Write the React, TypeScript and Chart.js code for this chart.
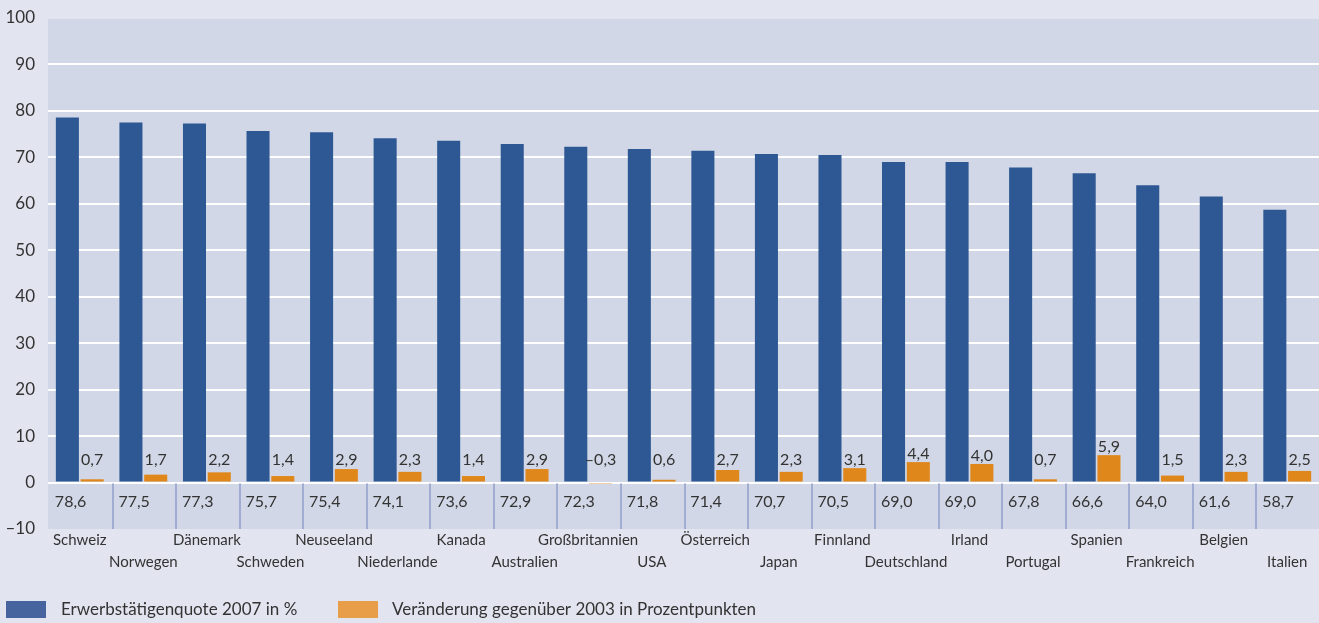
import React, { useEffect, useRef } from 'react';
import { Chart, registerables } from 'chart.js';

Chart.register(...registerables);

const countries = ['Schweiz', 'Norwegen', 'Dänemark', 'Schweden', 'Neuseeland', 'Niederlande', 'Kanada', 'Australien', 'Großbritannien', 'USA', 'Österreich', 'Japan', 'Finnland', 'Deutschland', 'Irland', 'Portugal', 'Spanien', 'Frankreich', 'Belgien', 'Italien'];
const employment2007 = [78.6, 77.5, 77.3, 75.7, 75.4, 74.1, 73.6, 72.9, 72.3, 71.8, 71.4, 70.7, 70.5, 69.0, 69.0, 67.8, 66.6, 64.0, 61.6, 58.7];
const change2003 = [0.7, 1.7, 2.2, 1.4, 2.9, 2.3, 1.4, 2.9, -0.3, 0.6, 2.7, 2.3, 3.1, 4.4, 4.0, 0.7, 5.9, 1.5, 2.3, 2.5];
const seriesLabels = ['Erwerbstätigenquote 2007 in %', 'Veränderung gegenüber 2003 in Prozentpunkten'];
const yMin = -10;
const yMax = 100;
const yStep = 10;

const PAGE_BG = '#e2e4f0';
const PLOT_BG = '#d1d7e6';
const BLUE = '#2e5894';
const ORANGE = '#e0871b';
const LEGEND_BLUE = '#47649e';
const LEGEND_ORANGE = '#e89d48';
const TEXT = '#333333';
const SEP = '#a0acd2';
const FONT = 'Lato, "Open Sans", sans-serif';

const fmt = (v: number) => (v < 0 ? '\u2013' : '') + Math.abs(v).toFixed(1).replace('.', ',');

const backgroundPlugin = {
  id: 'bgPlugin',
  beforeDraw(chart: any) {
    const { ctx, chartArea, width, height } = chart;
    ctx.save();
    ctx.fillStyle = PAGE_BG;
    ctx.fillRect(0, 0, width, height);
    ctx.fillStyle = PLOT_BG;
    ctx.fillRect(chartArea.left, chartArea.top + 1, chartArea.right - chartArea.left, chartArea.bottom - chartArea.top - 1);
    ctx.restore();
  },
  beforeDatasetsDraw(chart: any) {
    const { ctx, scales } = chart;
    const x = scales.x;
    const y = scales.y;
    const y0 = y.getPixelForValue(0);
    const yb = y.getPixelForValue(yMin);
    ctx.save();
    ctx.strokeStyle = SEP;
    ctx.lineWidth = 2;
    for (let i = 0; i < countries.length - 1; i++) {
      const a = x.getPixelForValue(i);
      const b = x.getPixelForValue(i + 1);
      const bx = Math.round((a + b) / 2) + 1;
      ctx.beginPath();
      ctx.moveTo(bx, y0 + 1);
      ctx.lineTo(bx, yb);
      ctx.stroke();
    }
    ctx.restore();
  },
  afterDatasetsDraw(chart: any) {
    const { ctx, scales } = chart;
    const y = scales.y;
    const y0 = y.getPixelForValue(0);
    const yb = y.getPixelForValue(yMin);
    const metaBlue = chart.getDatasetMeta(0);
    const metaOrange = chart.getDatasetMeta(1);
    ctx.save();
    ctx.fillStyle = TEXT;
    ctx.font = `16px ${FONT}`;
    ctx.textAlign = 'left';
    ctx.textBaseline = 'middle';
    employment2007.forEach((v, i) => {
      const el = metaBlue.data[i];
      const left = el.x - el.width / 2 - 1;
      ctx.fillText(fmt(v), left, (y0 + yb) / 2 - 4);
    });
    ctx.textAlign = 'center';
    ctx.textBaseline = 'alphabetic';
    change2003.forEach((v, i) => {
      const el = metaOrange.data[i];
      const top = Math.min(el.y, el.base);
      const base = Math.min(y0 - 17.5, top - 3);
      ctx.fillText(fmt(v), el.x, base);
    });
    ctx.restore();
  },
  afterDraw(chart: any) {
    const { ctx, data } = chart;
    ctx.save();
    ctx.font = `17px ${FONT}`;
    ctx.textBaseline = 'middle';
    ctx.textAlign = 'left';
    const items = [
      { bx: 6, tx: 61, color: LEGEND_BLUE, label: data.datasets[0].label },
      { bx: 338, tx: 392, color: LEGEND_ORANGE, label: data.datasets[1].label },
    ];
    items.forEach((it) => {
      ctx.fillStyle = it.color;
      ctx.fillRect(it.bx, 601, 40, 17);
      ctx.fillStyle = TEXT;
      ctx.fillText(it.label, it.tx, 610);
    });
    ctx.restore();
  },
};

export default function App() {
  const ref = useRef<HTMLCanvasElement | null>(null);
  useEffect(() => {
    document.body.style.margin = '0';
    document.body.style.background = PAGE_BG;
    const canvas = ref.current;
    if (!canvas) return;
    const chart = new Chart(canvas, {
      type: 'bar',
      data: {
        labels: countries.map((c, i) => (i % 2 === 0 ? [c] : ['', c])),
        datasets: [
          {
            label: seriesLabels[0],
            data: employment2007,
            backgroundColor: BLUE,
            categoryPercentage: 0.78,
            barPercentage: 0.93,
          },
          {
            label: seriesLabels[1],
            data: change2003,
            backgroundColor: ORANGE,
            categoryPercentage: 0.78,
            barPercentage: 0.93,
          },
        ],
      },
      options: {
        animation: false,
        responsive: false,
        devicePixelRatio: 1,
        layout: { padding: { top: 18, right: 0, bottom: 0, left: 0 } },
        plugins: {
          legend: { display: false },
          tooltip: { enabled: false },
        },
        scales: {
          x: {
            grid: { display: false, drawTicks: false, tickLength: 0 },
            border: { display: false },
            ticks: {
              autoSkip: false,
              maxRotation: 0,
              minRotation: 0,
              padding: 0,
              color: TEXT,
              font: { family: FONT, size: 15, lineHeight: 1.48 },
            },
            afterFit(scale: any) {
              scale.height = 94;
            },
          },
          y: {
            min: yMin,
            max: yMax,
            grid: {
              drawTicks: false,
              tickLength: 0,
              lineWidth: 2,
              color: (ctx: any) => {
                const v = ctx.tick ? ctx.tick.value : null;
                return v !== null && v >= 0 && v < yMax ? '#ffffff' : 'rgba(0,0,0,0)';
              },
            },
            border: { display: false },
            ticks: {
              stepSize: yStep,
              padding: 13,
              color: TEXT,
              font: { family: FONT, size: 17, lineHeight: 0.5 },
              callback: (v: any) => (Number(v) < 0 ? '\u2013' + Math.abs(Number(v)) : String(v)),
            },
            afterFit(scale: any) {
              scale.width = 48;
            },
          },
        },
      },
      plugins: [backgroundPlugin],
    });
    return () => chart.destroy();
  }, []);
  return (
    <div style={{ width: 1319, height: 623 }}>
      <canvas ref={ref} width={1319} height={623} style={{ display: 'block' }} />
    </div>
  );
}
